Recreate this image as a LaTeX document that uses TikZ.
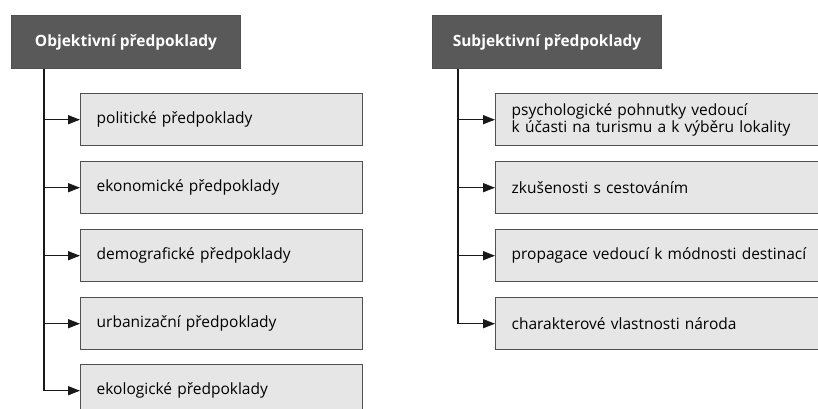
\documentclass[tikz,border=0pt]{standalone}
\usepackage{fontspec}
\setmainfont{Open Sans}
\usetikzlibrary{arrows.meta,positioning}
\definecolor{headfill}{HTML}{595959}
\definecolor{boxfill}{HTML}{E6E6E6}
\definecolor{boxline}{HTML}{505050}
\begin{document}
\begin{tikzpicture}[x=1pt,y=-1pt,
  head/.style={draw=boxline,fill=headfill,line width=1pt,minimum width=229pt,minimum height=53pt,
    text=white,font=\fontsize{15.5}{17}\selectfont\bfseries,anchor=north west,inner sep=0pt},
  itembox/.style={draw=boxline,fill=boxfill,line width=1.4pt,minimum height=52pt,anchor=north west,
    inner xsep=16pt,inner ysep=0pt,align=left,font=\fontsize{15.5}{17}\selectfont},
  lbox/.style={itembox,text width=250pt},
  rbox/.style={itembox,text width=298pt},
  conn/.style={line width=1.4pt,draw=black!90,-{Triangle[length=12pt,width=9pt]}},
  trunk/.style={line width=1.4pt,draw=black!90}]
\useasboundingbox (0,0) rectangle (818,409);
\clip (0,0) rectangle (818,409);
\fill[white] (0,0) rectangle (818,409);
% left column
\node[head] (hl) at (11,15) {Objektivní předpoklady};
\node[lbox] (l1) at (80,93) {politické předpoklady};
\node[lbox] (l2) at (80,161) {ekonomické předpoklady};
\node[lbox] (l3) at (80,229) {demografické předpoklady};
\node[lbox] (l4) at (80,297) {urbanizační předpoklady};
\node[lbox] (l5) at (80,364) {ekologické předpoklady};
\coordinate (tl) at ([xshift=33pt]hl.south west);
\draw[trunk] (tl) -- (tl |- l5.west);
\foreach \b in {l1,l2,l3,l4,l5}{\draw[conn] (tl |- \b.west) -- (\b.west);}
% right column
\node[head] (hr) at (432,15) {Subjektivní předpoklady};
\node[rbox] (r1) at (495,93) {psychologické pohnutky vedoucí\\k účasti na turismu a k výběru lokality};
\node[rbox] (r2) at (495,161) {zkušenosti s cestováním};
\node[rbox] (r3) at (495,229) {propagace vedoucí k módnosti destinací};
\node[rbox] (r4) at (495,297) {charakterové vlastnosti národa};
\coordinate (tr) at ([xshift=26pt]hr.south west);
\draw[trunk] (tr) -- (tr |- r4.west);
\foreach \b in {r1,r2,r3,r4}{\draw[conn] (tr |- \b.west) -- (\b.west);}
\end{tikzpicture}
\end{document}
